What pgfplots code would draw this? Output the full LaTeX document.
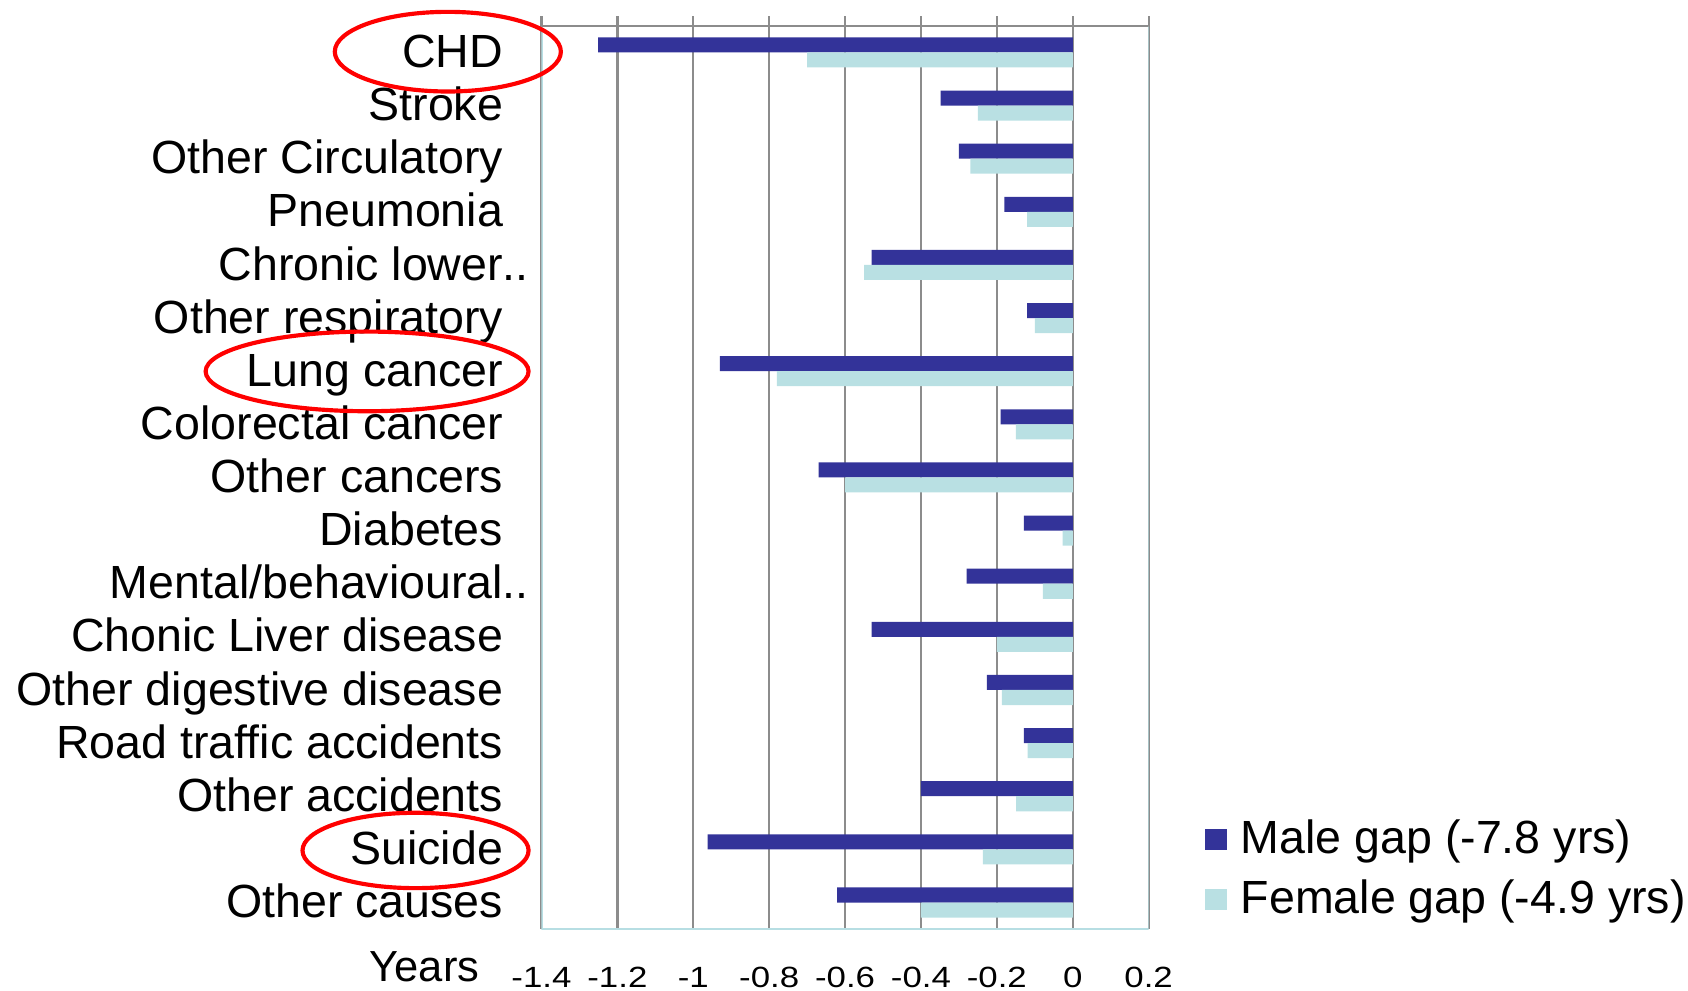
\documentclass[border=0pt]{standalone}
\usepackage{graphicx}
\usepackage{pgfplots}
\pgfplotsset{compat=1.18}
\usepackage{pgfplotstable}
\usepackage{fontspec}
\setmainfont{Liberation Sans}
\definecolor{male}{HTML}{333399}
\definecolor{female}{HTML}{B9E0E3}
\definecolor{gridgray}{HTML}{8C8C8C}
\definecolor{frame}{HTML}{B7DEE3}
\pgfplotstableread{
idx male female
0 -1.251 -0.700
1 -0.348 -0.250
2 -0.300 -0.270
3 -0.180 -0.120
4 -0.530 -0.550
5 -0.120 -0.100
6 -0.930 -0.780
7 -0.190 -0.150
8 -0.670 -0.600
9 -0.129 -0.027
10 -0.280 -0.079
11 -0.530 -0.200
12 -0.226 -0.187
13 -0.129 -0.119
14 -0.400 -0.149
15 -0.962 -0.237
16 -0.621 -0.400
}\gaps
\begin{document}
\begin{tikzpicture}
\useasboundingbox (-5.03,-0.57) rectangle (10.65,8.63);
\begin{axis}[
  at={(0,0)}, anchor=south west,
  scale only axis, width=5.64cm, height=8.39cm,
  xbar, bar width=0.283,
  xmin=-1.4, xmax=0.2,
  ymin=-0.5, ymax=16.5, y dir=reverse,
  xtick={-1.4,-1.2,-1,-0.8,-0.6,-0.4,-0.2,0,0.2},
  ytick={0,...,16},
  yticklabels={CHD,Stroke,Other Circulatory,Pneumonia,Chronic lower\rlap{..},Other respiratory,Lung cancer,Colorectal cancer,Other cancers,Diabetes,Mental/behavioural\rlap{..},Chonic Liver disease,Other digestive disease,Road traffic accidents,Other accidents,Suicide,Other causes},
  axis line style={draw=none},
  xtick pos=right, xticklabel pos=left, tick align=outside,
  major tick length=0.09cm,
  x tick style={gridgray, line width=0.6pt},
  y tick style={draw=none},
  xmajorgrids, major grid style={gridgray, line width=0.6pt},
  /pgf/number format/assume math mode=true,
  xticklabel={\scalebox{1}[0.84]{\pgfmathprintnumber{\tick}}},
  xticklabel style={font=\fontsize{9.2}{11}\selectfont, anchor=base, inner sep=0pt, yshift=-0.45cm},
  yticklabel style={font=\fontsize{12.3}{14}\selectfont, inner sep=0pt, anchor=base east, xshift=-0.26cm, yshift=-0.14cm},
  legend style={draw=none, fill=none, at={(1.092,0.066)}, anchor=west, font=\fontsize{12.3}{14}\selectfont, row sep=1.5pt, column sep=0.6mm, inner sep=0pt},
  legend cell align=left,
  legend image code/.code={\fill[#1] (0mm,-1mm) rectangle (2mm,1mm);},
]
\addplot[draw=none, fill=male, bar shift=-0.1415] table[x=male, y=idx] {\gaps};
\addlegendentry{Male gap (-7.8 yrs)}
\addplot[draw=none, fill=female, bar shift=0.1415] table[x=female, y=idx] {\gaps};
\addlegendentry{Female gap (-4.9 yrs)}
\draw[frame, line width=0.6pt] (rel axis cs:0,1) -- (rel axis cs:0,0) -- (rel axis cs:1,0) -- (rel axis cs:1,1);
\draw[gridgray, line width=0.6pt] (rel axis cs:0,1) -- (rel axis cs:1,1);
\end{axis}
\node[font=\fontsize{11.5}{13}\selectfont, anchor=base, inner sep=0pt] at (-1.087,-0.49) {Years};
\draw[red, line width=1.1pt] (-0.87,8.15) ellipse (1.05cm and 0.37cm);
\draw[red, line width=1.1pt] (-1.62,5.18) ellipse (1.50cm and 0.37cm);
\draw[red, line width=1.1pt] (-1.17,0.73) ellipse (1.05cm and 0.35cm);
\end{tikzpicture}
\end{document}
